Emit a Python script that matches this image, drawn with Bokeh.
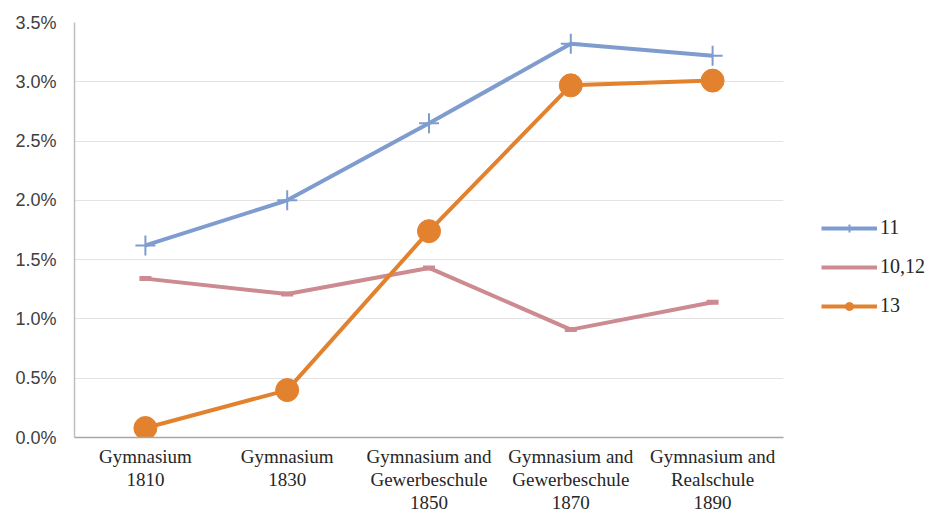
from bokeh.plotting import figure
from bokeh.models import FactorRange, Range1d, Legend, LegendItem, PrintfTickFormatter, FixedTicker
from bokeh.embed import file_html
from bokeh.resources import INLINE

categories = ["Gymnasium\n1810", "Gymnasium\n1830", "Gymnasium and\nGewerbeschule\n1850",
              "Gymnasium and\nGewerbeschule\n1870", "Gymnasium and\nRealschule\n1890"]
s11 = [1.62, 2.00, 2.65, 3.32, 3.22]
s1012 = [1.34, 1.21, 1.43, 0.91, 1.14]
s13 = [0.08, 0.40, 1.74, 2.97, 3.01]
y_ticks = [0.0, 0.5, 1.0, 1.5, 2.0, 2.5, 3.0, 3.5]

blue = "#7f9ccf"
pink = "#cc8b90"
orange = "#e2822f"
serif = "Liberation Serif"

p = figure(frame_width=709, frame_height=415, x_range=FactorRange(*categories), y_range=Range1d(0, 3.5),
           output_backend="svg", toolbar_location=None,
           min_border_left=74, min_border_right=148, min_border_top=22, min_border_bottom=78)
p.outline_line_color = None
p.background_fill_color = "white"

p.xgrid.grid_line_color = None
p.ygrid.grid_line_color = "#e3e3e3"
p.ygrid.grid_line_width = 1
p.yaxis.ticker = FixedTicker(ticks=y_ticks)
p.yaxis.formatter = PrintfTickFormatter(format="%.1f%%")
for ax in (p.xaxis[0], p.yaxis[0]):
    ax.axis_line_color = "#a6a6a6"
    ax.axis_line_width = 1.5
    ax.major_tick_line_color = None
    ax.minor_tick_line_color = None
    ax.major_tick_out = 0
    ax.major_tick_in = 0
    ax.minor_tick_out = 0
    ax.minor_tick_in = 0
    ax.major_label_text_color = "#262626"
p.xaxis[0].major_label_text_font = serif
p.xaxis[0].major_label_text_font_size = "19px"
p.xaxis[0].major_label_text_line_height = 1.1
p.xaxis[0].major_label_standoff = 8
p.yaxis[0].major_label_text_font = "Liberation Sans"
p.yaxis[0].major_label_text_font_size = "18px"
p.yaxis[0].major_label_text_color = "#404040"
p.yaxis[0].major_label_standoff = 18
p.yaxis[0].axis_line_color = "#bfbfbf"

l11 = p.line(categories, s11, line_color=blue, line_width=4)
m11 = p.scatter(categories, s11, marker="cross", size=20, line_color=blue, line_width=2)
l1012 = p.line(categories, s1012, line_color=pink, line_width=4)
m1012 = p.scatter(categories, s1012, marker="dash", size=12, line_color=pink, line_width=5)
l13 = p.line(categories, s13, line_color=orange, line_width=4)
m13 = p.scatter(categories, s13, marker="circle", size=23, fill_color=orange, line_color=orange)

legend = Legend(items=[LegendItem(label="11", renderers=[l11, m11]),
                       LegendItem(label="10,12", renderers=[l1012]),
                       LegendItem(label="13", renderers=[l13, m13])],
                location=(38, 120), margin=0, padding=10,
                glyph_width=56, glyph_height=20, spacing=16, label_standoff=3,
                label_text_font=serif, label_text_font_size="20px", label_text_color="#262626",
                border_line_color=None, background_fill_alpha=0)
p.add_layout(legend, "right")

open("out.html", "w").write(file_html(p, INLINE))
